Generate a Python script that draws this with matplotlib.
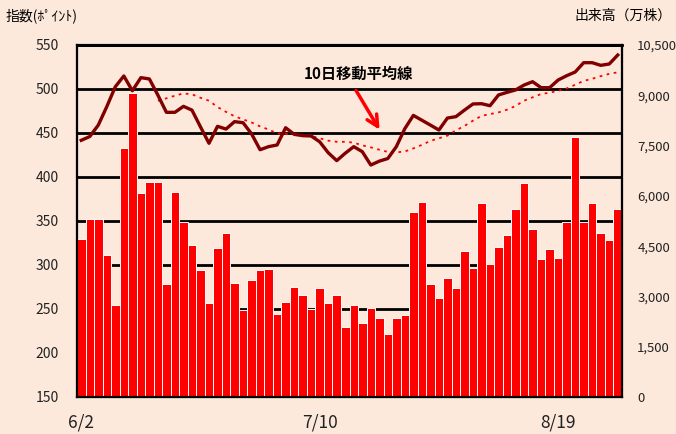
import numpy as np
import matplotlib.pyplot as plt
from matplotlib.ticker import FixedLocator, FuncFormatter

plt.rcParams['font.family'] = ['Noto Sans CJK JP', 'DejaVu Sans']

# 出来高(万株)
volume = [4713, 5310, 5310, 4236, 2744, 7428, 9068, 6085, 6413, 6413,
          3371, 6115, 5220, 4534, 3788, 2804, 4445, 4892, 3400, 2595,
          3490, 3788, 3818, 2476, 2834, 3281, 3042, 2625, 3251, 2804,
          3042, 2088, 2744, 2207, 2655, 2357, 1879, 2357, 2446, 5518,
          5817, 3371, 2953, 3550, 3251, 4356, 3848, 5787, 3967, 4474,
          4832, 5608, 6383, 5011, 4117, 4415, 4147, 5220, 7756, 5220,
          5787, 4892, 4683, 5608]
# 指数(ポイント)
index = [441.7, 446.0, 459.0, 480.0, 502.6, 514.8, 498.0, 512.9, 511.4, 493.0,
         473.5, 473.5, 480.3, 476.0, 457.0, 438.3, 457.6, 454.5, 462.9, 461.7,
         449.0, 431.0, 434.5, 436.4, 456.0, 448.5, 447.0, 446.6, 440.0, 427.6,
         418.6, 427.0, 434.5, 428.8, 413.6, 418.0, 421.0, 434.5, 455.0, 470.0,
         464.5, 459.0, 453.4, 467.0, 468.6, 476.0, 483.0, 483.3, 481.0, 493.2,
         496.2, 498.9, 504.5, 508.3, 501.5, 501.5, 510.2, 515.1, 519.3, 529.9,
         529.9, 526.9, 528.4, 538.6]
# 10日移動平均線 (10日目から)
ma10 = [486.7, 489.4, 492.4, 495.0, 494.0, 490.0, 486.7, 479.5, 474.0, 469.0,
        465.5, 462.0, 457.5, 454.0, 449.5, 449.0, 449.0, 447.5, 446.5, 444.0,
        441.3, 440.0, 440.0, 439.0, 436.0, 433.7, 431.0, 428.5, 428.0, 429.0,
        432.5, 436.5, 441.0, 444.0, 447.0, 453.0, 458.0, 464.0, 469.5, 471.5,
        473.4, 476.5, 480.7, 486.7, 490.5, 494.3, 495.8, 498.0, 500.6, 504.8,
        509.2, 511.6, 514.6, 517.2, 519.0]
label_days = [1, 29, 57]
date_labels = ['6/2', '7/10', '8/19']

bg = '#FDE9DB'
days = np.arange(1, len(volume) + 1)
ma_days = days[len(days) - len(ma10):]

fig = plt.figure(figsize=(6.76, 4.34), dpi=100, facecolor=bg)
ax = fig.add_axes([77/676, 37/434, 545/676, 352/434])
ax.set_facecolor(bg)

# 指数軸(左) + グリッド
ax.set_ylim(150, 550)
ax.set_yticks(np.arange(150, 551, 50))
ax.grid(axis='y', color='black', lw=2)
ax.set_axisbelow(True)
ax.tick_params(axis='y', length=0, pad=13, labelsize=10, labelcolor='#222222')
ax.set_xlim(0.5, len(volume) + 0.5)
ax.set_xticks(label_days)
ax.set_xticklabels(date_labels, fontsize=12.5, color='#222222')
ax.xaxis.set_minor_locator(FixedLocator(np.arange(5.0, len(volume), 4.5)))
ax.tick_params(axis='x', which='major', length=0, pad=12)
ax.tick_params(axis='x', which='minor', direction='in', length=5, width=1.5)

# 出来高(右)
axv = ax.twinx()
axv.bar(days, volume, width=1.0, color='#FF0000', edgecolor='white', linewidth=0.7)
axv.set_ylim(0, 10500)
axv.set_yticks(np.arange(0, 10501, 1500))
axv.yaxis.set_major_formatter(FuncFormatter(lambda v, p: f'{int(v):,}'))
axv.tick_params(axis='y', length=0, pad=11, labelsize=9.5, labelcolor='#222222')

# 線(一番上)
axl = ax.twinx()
axl.set_ylim(150, 550)
axl.set_yticks([])
axl.plot(days, index, color='#800000', lw=2.4, zorder=3)
axl.plot(ma_days, ma10, color='#FF0000', lw=1.3, ls=(0, (1.5, 2.5)), zorder=2)

axl.text(33.6, 517.5, '10日移動平均線', ha='center', va='center',
         fontsize=11, fontweight='bold')
axl.annotate('', xy=(36.2, 451), xytext=(33.1, 501),
             arrowprops=dict(arrowstyle='->', color='#FF0000', lw=2.5,
                             mutation_scale=20))

for a in (ax, axv, axl):
    for s in a.spines.values():
        s.set_color('black')
        s.set_linewidth(1.5)
ax.spines['top'].set_linewidth(2)

fig.text(6/676, 1 - 16/434, '指数(ﾎﾟｲﾝﾄ)', ha='left', va='center', fontsize=10)
fig.text(672/676, 1 - 16/434, '出来高（万株）', ha='right', va='center', fontsize=10)

fig.savefig('out.png', dpi=100, facecolor=bg)
